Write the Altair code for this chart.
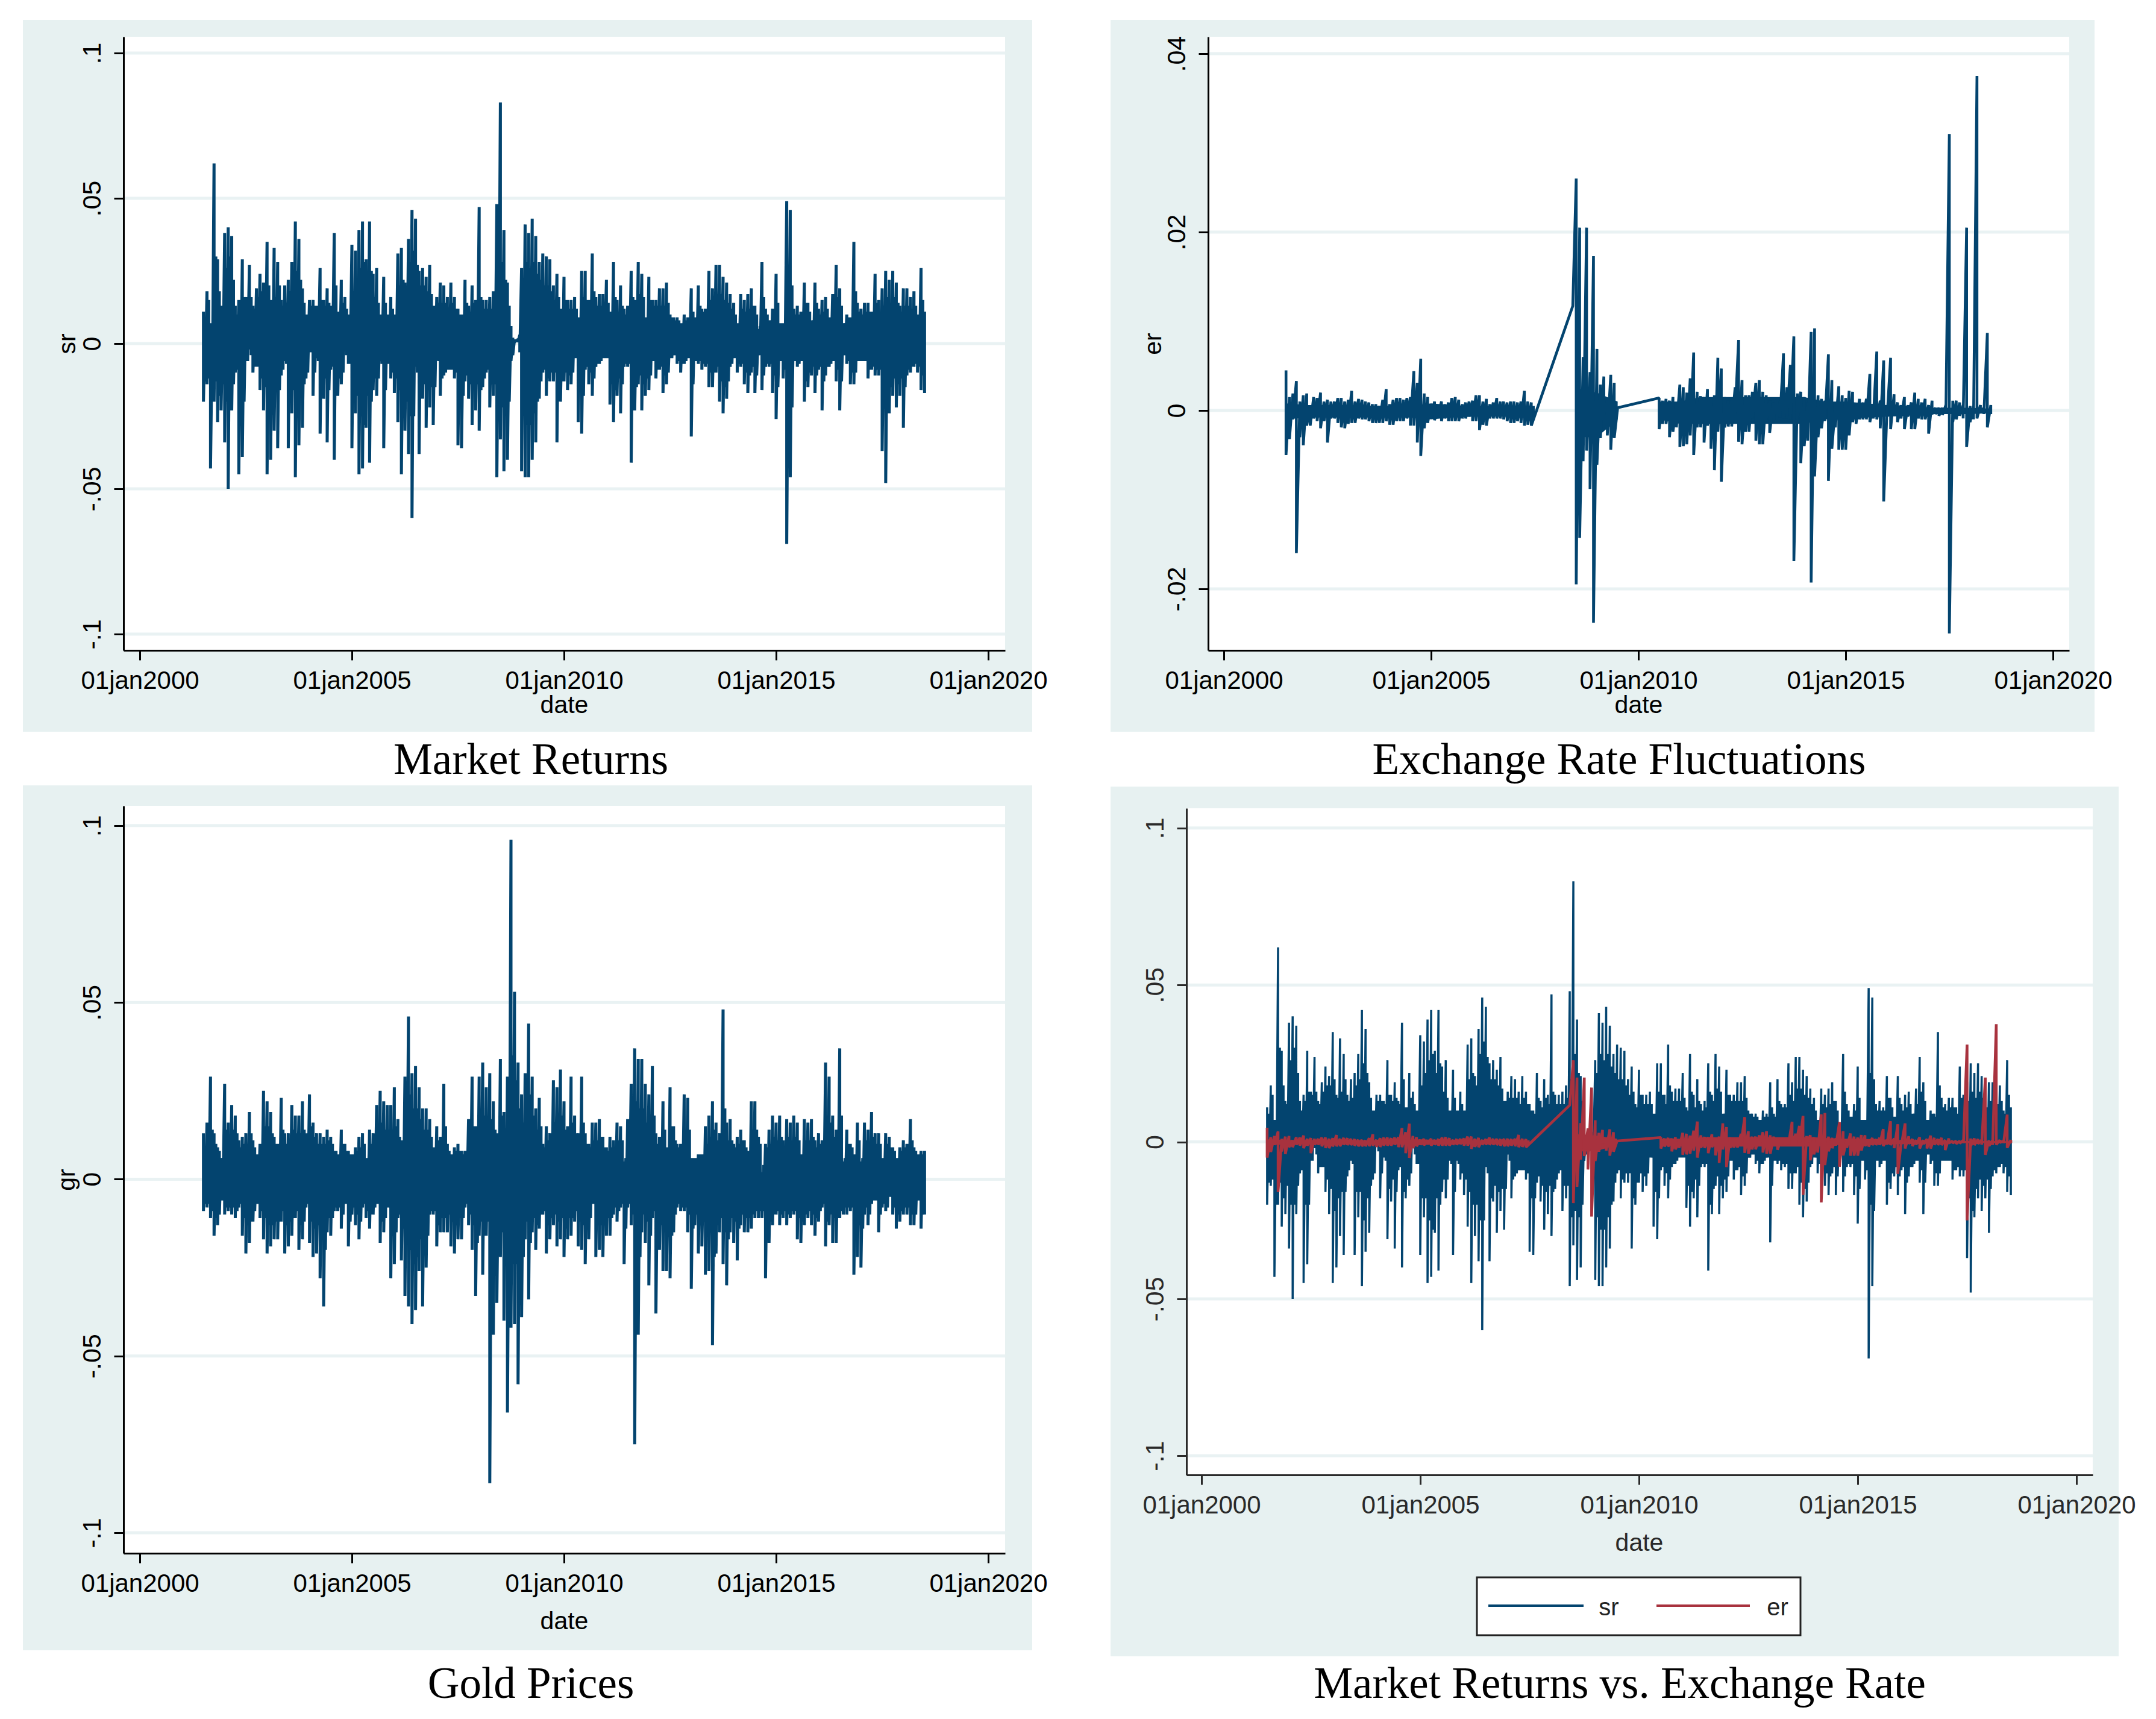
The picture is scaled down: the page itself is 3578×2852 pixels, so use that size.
import altair as alt
import pandas as pd

# Envelope of each daily series, one high and one low per
# month from July 2001 (index 0) to July 2018 (index 204), in thousandths.
SR_HI = [11,18,7,62,29,13,38,40,37,13, 15,29,16,27,13,19,24,21,35,15, 33,28,15,20,22,28,42,36,19,10,
         15,15,13,26,15,19,13,38,11,22, 16,10,34,32,39,42,29,42,24,26, 10,23,10,16,10,31,33,21,36,46,
         43,25,26,23,27,13,16,21,20,
         16,21,16,12,10,22,13,20,15,47,15,15,16,18,48,83,39,21, 6,1.5,1.5,
         26,41,38,43,37,28,31,30,29,20,24,12,23,15,15,16,9,25,25,15,31,16,17,17,22,11,28,15,20,12,
         13,25,15,28,24,9,23,15,15,19,19,21,10,9,9,7,10,9,19,
         9,20,12,12,25,19,27,27,23,21,17,14,7,17,15,17,19,13,5,28,12,8,12,24,7,7,49,46,12,13,
         11,21,14,8,21,12,15,16,9,17,27,19,7,10,9,35,14,12,14,14,11,24,15,19,25,22,25,21,13,19,
         19,16,18,10,26,11]
SR_LO = [-20,-14,-43,-20,-27,-23,-34,-50,-23,-10, -45,-39,-6,-2,-10,-8,-16,-23,-45,-40,
         -30,-36,-11,-6,-36,-24,-46,-35,-29,-12, -1,-18,-5,-31,-19,-34,-9,-40,-18,-14,
         -2,-7,-36,-24,-45,-43,-29,-41,-16,-18, -6,-36,-6,-12,-17,-27,-45,-30,-38,-60,
         -8,-38,-19,-29,-22,-28,-4,-18,-11,
         -9,-9,-12,-35,-36,-13,-19,-28,-23,-30,-15,-10,-22,-18,-46,-33,-44,-40, -6,0.5,0.5,
         -44,-46,-46,-40,-34,-19,-10,-18,-13,-13,-34,-20,-13,-16,-14,-5,-27,-31,-9,-14,
         -18,-8,-7,-5,-5,-21,-27,-18,-24,-8,-8,-41,-23,-14,-23,-18,-16,-6,-12,-9,
         -17,-14,-5,-4,-7,-10,-7,-5,-32,
         -6,-7,-9,-8,-15,-15,-10,-20,-24,-19,-8,-5,-10,-8,-14,-17,-10,-17,-4,-16,
         -8,-8,-17,-26,-6,-12,-69,-46,-6,-8,-6,-20,-15,-11,-17,-9,-23,-11,-8,-6,
         -13,-23,-4,-7,-14,-14,-6,-6,-6,-12,-9,-11,-11,-37,-48,-24,-18,-22,-18,-29,
         -11,-10,-8,-10,-16,-17]

# Lesser swings seen between those monthly extremes, half a month later.
SR_MID_HI = [9,15,7,30,18,12,26,30,22,10, 13,16,15,16,12,16,18,18,20,14, 16,20,13,14,18,20,25,22,14,10,
             13,13,12,15,13,14,12,20,11,14, 12,10,18,22,26,28,22,25,16,14, 10,14,10,12,10,20,22,18,28,32,
             27,20,20,18,17,13,14,14,14,
             12,14,12,10,9,14,11,14,12,16,12,12,12,14,20,28,22,13,2,1.2,3,
             22,28,26,28,24,22,20,20,18,15,16,11,15,12,12,12,9,16,15,12,18,13,13,13,14,10,16,11,13,10,
             11,16,13,17,16,9,15,13,13,13,13,14,9,8,8,7,8,8,11,
             8,13,11,11,15,13,17,17,15,14,12,10,7,12,11,12,13,10,6,16,10,8,10,14,7,7,22,20,10,10,
             10,14,11,8,14,10,11,12,9,12,16,13,7,9,8,18,11,10,11,11,9,14,11,13,16,14,16,14,11,13,
             13,12,13,9,15,9]
SR_MID_LO = [-13,-12,-20,-13,-18,-14,-20,-20,-14,-9, -20,-20,-6,-4,-8,-8,-12,-15,-22,-18,
             -16,-16,-9,-7,-16,-16,-25,-18,-14,-10, -3,-10,-6,-15,-12,-16,-8,-16,-12,-10,
             -4,-7,-18,-18,-25,-28,-18,-20,-12,-12, -7,-16,-7,-10,-12,-16,-20,-20,-25,-25,
             -10,-18,-14,-16,-15,-15,-6,-12,-10,
             -9,-9,-10,-18,-18,-11,-14,-16,-14,-16,-12,-9,-14,-14,-24,-22,-24,-20,-4,.7,-3,
             -24,-28,-28,-24,-20,-13,-9,-12,-10,-10,-18,-13,-10,-11,-10,-5,-16,-18,-8,-10,
             -12,-7,-6,-5,-5,-14,-16,-12,-14,-7,-7,-20,-15,-11,-14,-12,-11,-6,-9,-8,
             -11,-10,-5,-4,-6,-7,-6,-5,-14,
             -6,-6,-7,-7,-10,-10,-8,-13,-15,-13,-7,-5,-7,-7,-10,-11,-8,-11,-4,-11,
             -7,-7,-11,-15,-6,-9,-20,-22,-6,-7, -6,-13,-10,-8,-11,-8,-13,-8,-7,-6,
             -9,-13,-4,-6,-10,-10,-6,-6,-6,-9,-8,-9,-9,-18,-22,-15,-12,-14,-12,-15,
             -9,-8,-7,-8,-11,-12]

GR_HI = [13,16,29,13,9,6,27,16,21,18, 11,12,13,19,11,7,10,25,22,19, 12,10,23,13,13,21,18,18,22,13,
         24,16,13,13,12,14,12,8,7,14, 10,8,7,9,12,13,6,14,13,21, 25,22,21,21,26,17,11,29,46,30,
         32,26,20,20,17,9,15,12,27,
         10,7,9,10,8,8,17,29,15,29, 33,26,30,22,13,34,19,29,96,53, 33,24,30,44,29,20,23,10,15,13,
         28,26,31,22,15,29,18,13,29,13, 10,16,16,17,12,9,12,11,16,15, 5,17,27,37,34,34,27,24,32,13,
         12,22,9,26,15,10,10,24,23,6,
         6,7,7,15,18,22,16,13,48,16, 17,10,12,14,11,8,22,22,12,2, 10,14,18,16,18,11,17,16,18,16,
         7,17,16,17,11,13,11,33,29,18, 14,37,5,14,10,7,16,5,16,14, 19,13,13,6,13,12,9,6,9,11,
         10,17,9,7,8,8]
GR_LO = [-9,-8,-11,-16,-13,-6,-10,-9,-10,-11, -8,-16,-21,-18,-12,-7,-11,-17,-21,-19,
         -17,-17,-12,-21,-19,-16,-11,-20,-17,-8, -18,-22,-21,-28,-36,-15,-16,-9,-9,-14,
         -7,-19,-10,-13,-17,-8,-11,-14,-10,-7, -18,-15,-8,-28,-24,-11,-23,-33,-36,-41,
         -37,-26,-36,-25,-10,-10,-19,-15,-15,
         -15,-19,-21,-17,-17,-8,-13,-20,-33,-16, -27,-16,-86,-44,-35,-22,-40,-66,-42,-41,
         -58,-39,-17,-34,-15,-20,-14,-10,-21,-17, -13,-19,-17,-22,-17,-16,-12,-19,-20,-24,
         -17,-7,-22,-20,-22,-16,-16,-10,-12,-8, -24,-8,-13,-75,-44,-15,-18,-30,-11,-38,
         -20,-26,-26,-28,-15,-8,-9,-9,-15,-31,
         -13,-21,-19,-27,-26,-47,-21,-15,-24,-30, -15,-18,-23,-13,-15,-15,-14,-11,-11,-11,
         -28,-18,-13,-10,-13,-11,-13,-11,-10,-17, -18,-13,-11,-13,-16,-12,-8,-19,-13,-18,
         -18,-11,-10,-10,-9,-27,-22,-25,-10,-13, -7,-6,-15,-8,-9,-5,-10,-14,-12,-10,
         -10,-13,-13,-6,-14,-10]
GR_MID_HI = [9,12,14,10,8,6,14,12,14,13, 9,10,10,13,9,7,8,15,15,13, 10,9,14,10,10,14,13,13,14,10,
             15,12,10,10,10,11,10,8,7,10, 8,7,7,8,9,10,6,10,10,14, 16,14,14,14,15,12,10,17,24,20,
             20,17,14,14,12,9,11,10,15,
             8,7,8,8,7,8,11,15,12,16, 18,16,17,14,11,18,14,16,35,28, 20,16,18,24,18,14,15,9,11,10,
             16,16,18,14,12,16,13,10,16,10, 9,11,11,12,9,8,9,9,11,11, 6,12,16,22,20,20,16,15,18,10,
             9,14,8,15,11,9,9,14,14,6,
             6,7,7,10,12,14,11,10,20,11, 11,9,10,11,9,8,14,14,10,4, 9,10,12,11,12,9,12,11,12,11,
             7,11,11,12,9,10,9,18,16,12, 10,18,6,10,9,7,11,6,11,10, 12,10,10,6,10,9,8,6,8,9,
             8,11,8,7,7,7]
GR_MID_LO = [-7,-7,-9,-11,-10,-6,-8,-8,-8,-9, -7,-11,-13,-12,-9,-7,-9,-11,-13,-13,
             -12,-12,-9,-13,-12,-11,-9,-13,-12,-7, -12,-14,-13,-16,-20,-11,-11,-8,-8,-10,
             -7,-12,-8,-10,-12,-7,-9,-10,-8,-7, -12,-11,-8,-16,-15,-10,-14,-18,-20,-24,
             -22,-17,-20,-16,-9,-9,-13,-11,-11,
             -10,-12,-13,-11,-11,-7,-10,-13,-18,-12, -16,-12,-30,-22,-20,-15,-22,-28,-24,-24,
             -28,-22,-12,-18,-11,-13,-10,-9,-13,-11, -10,-12,-11,-14,-11,-11,-9,-12,-13,-14,
             -11,-7,-13,-13,-13,-11,-11,-8,-9,-7, -14,-7,-10,-28,-22,-10,-12,-16,-9,-18,
             -13,-15,-15,-16,-10,-7,-8,-8,-10,-14,
             -10,-13,-12,-16,-15,-22,-13,-11,-15,-17, -11,-12,-14,-10,-11,-11,-10,-9,-9,-9,
             -15,-12,-10,-9,-10,-9,-10,-9,-9,-11, -12,-10,-9,-10,-11,-9,-7,-12,-10,-11,
             -11,-9,-8,-8,-8,-15,-13,-14,-8,-10, -6,-6,-10,-7,-8,-5,-8,-10,-9,-8,
             -8,-10,-10,-6,-10,-8]

# None marks the months with no exchange-rate observation (the line jumps them).
ER_HI = [4.5,1.5,1.9,3.3,1,1.7,1.9,.5,1.5,1.4, 2,1,1.2,1,1,1.4,1.4,1,1.2,2.2,
         1,1.3,1.2,1,.9,.7,.7,.5,1.2,2.4, .7,1.2,1.4,1.4,1.2,1.4,1.5,4.4,3.1,5.8,
         1.9,1.5,.7,1,.5,1,.7,.9,1.4,1.5, 1.2,.7,.9,1,1.1,1.7,1.7,1,1.3,.7,
         .9,1.4,1,1,.9,1,1,.9,1,2.2,1,.9,
         None,None,None,None,None,None,None,None,None,None,None,
         11.7,26,20.5,6,20.5,4.3,17.3,6.9,2.9,3.8,1.2,4,3.1,.3,
         None,None,None,None,None,None,None,None,None,None,None,
         1.4,1.1,1.3,1.1,1.5,.6,2.9,2.6,2,3.6, 6.5,2.1,1.6,1.5,2.4,1.3,1.7,5.9,4.7,1.5,
         1.1,1.3,2.6,7.9,3.4,1.7,1.7,2.1,3.1,3.4, 2.1,1.7,1.1,.9,1.2,1,6.4,2.6,5.1,8.3,
         1.9,2.1,1.5,.9,8.8,9.2,1.7,1.3,1.1,6.3, 3.4,.6,2.7,1.7,1.4,2.2,2.1,.6,1.3,.9,
         1.3,4.1,.6,6.6,1.1,5.6,.6,5.9,1.8,.9, .6,1.5,.6,.9,2,1.3,.9,1.3,.6,1.1,
         .3,.3,.3,.6,31,
         1.1,1.1,.9,.6,20.5,.5,.5,37.5,.6,.3,8.7,.6]
ER_LO = [-5,-3.2,-1,-16,-3,-3.9,-1.7,-1.7,-.9,-1.2, -2,-1.2,-3.6,-.9,-.9,-1.4,-1.9,-2,-1.5,-1.4,
         -1.4,-.9,-1,-1,-1.2,-1.4,-1.4,-1.4,-1.4,-1.2, -1.6,-1.6,-1.2,-1.2,-1.2,-.9,-1.7,-1.7,-3.6,-5.1,
         -2,-1.4,-.9,-1.1,-.5,-1.2,-.9,-1.2,-1.2,-1.2, -1.2,-.9,-.9,-.7,-1.2,-1.2,-2.2,-1.6,-1.7,-.9,
         -.9,-.9,-.9,-1,-1.2,-1.4,-1.4,-1.2,-1.4,-1.7,-1.6,-1.7,
         None,None,None,None,None,None,None,None,None,None,None,
         11.7,-19.5,-14.3,-5.7,-4.5,-8.8,-23.8,-6.1,-3.1,-.5,-2.8,-4.4,-3.1,.3,
         None,None,None,None,None,None,None,None,None,None,None,
         -2.1,-1.5,-1.5,-3,-2.4,-1.9,-4.1,-4,-3.8,-2.8, -5,-1.9,-1.9,-3.6,-1.7,-4.3,-6.7,-2.4,-8,-1.9,
         -1.8,-1.8,-.4,-3.5,-3.8,-2.4,-2.4,-.9,-3.4,-3.8, -3.8,-1,-2.5,-.8,-1,-.8,-.9,-.9,-1,-16.9,
         -.6,-5.9,-4,-3.4,-19.3,-7.4,-3,-2,-1.2,-7.9, -4.3,-1.9,-4.4,-4.4,-4.4,-2.8,-1.3,-1.5,-1,-1,
         -1,-1.3,-.9,-1,-2,-10.2,-.7,-2.1,-.6,-1.3, -.9,-2.1,-.7,-2.1,-2.1,-.9,-1,-1,-2.6,-.4,
         -.4,-.6,-.5,-.4,-25,
         -1.3,-1,-.6,-.9,-4.1,-1.3,-1,-.9,-.2,-.4,-1.9,-.4]

# The solid band the small daily exchange-rate swings merge into, in thousandths.
ER_BAND_YEARS = [[2001.5 + 0.5 * n for n in range(13)], [2008.5, 2009, 2009.5], [2010.5 + 0.5 * n for n in range(17)]]
ER_BAND_HI = [[.8,.6,.6,.6,.5,.5,.5,.8,.6,.5,.5,.5,.5], [2.5,2,1], [1,1,1.5,1.5,1.5,1.5,1.5,1.5,1,1,.8,.6,.5,.3,.3,.3,.2]]
ER_BAND_LO = [[-1,-.8,-.8,-.8,-.8,-.8,-.8,-1,-.8,-.7,-.7,-.7,-1], [-3,-3,-1], [-1,-1.5,-1.5,-1.5,-1.5,-1.5,-1.5,-1.5,-1,-1,-.8,-.7,-.6,-.4,-.4,-.4,-.3]]

X_TICKS = [2000, 2005, 2010, 2015, 2020]
SR_TICKS = [-0.1, -0.05, 0, 0.05, 0.1]
ER_TICKS = [-0.02, 0, 0.02, 0.04]
TITLES = ["Market Returns", "Exchange Rate Fluctuations", "Gold Prices", "Market Returns vs. Exchange Rate"]
LEGEND_LABELS = ["sr", "er"]

NAVY = "#03446f"
RED = "#a8323e"
PANEL = "#e7f1f1"
GRID = "#e9f2f3"
SANS = "Liberation Sans"
SERIF = "Liberation Serif"
W, H = 3562, 2836
ONE = pd.DataFrame({"a": [0]})


def series(hi, lo, mid_hi=None, mid_lo=None):
    rows = []
    i = 0
    for k, (a, b) in enumerate(zip(hi, lo)):
        year = 2001.5 + k / 12
        if a is None:
            continue
        rows.append({"year": year, "v": a / 1000, "i": i})
        rows.append({"year": year, "v": b / 1000, "i": i + 1})
        i += 2
        if mid_hi is not None and k < len(hi) - 1:
            rows.append({"year": year + 0.5 / 12, "v": mid_hi[k] / 1000, "i": i})
            rows.append({"year": year + 0.5 / 12, "v": mid_lo[k] / 1000, "i": i + 1})
            i += 2
    return pd.DataFrame(rows)


def band(years, hi, lo, seg=0):
    return pd.DataFrame({"year": years, "hi": [h / 1000 for h in hi], "lo": [l / 1000 for l in lo], "seg": seg})


def label_expr():
    return "replace(replace(format(datum.value,'.2~f'),'0.','.'),'\u2212','-')"


def rect(x0, x1, y0, y1, fill):
    return alt.Chart(ONE).mark_rect(fill=fill).encode(
        x=alt.value(x0 - 8), x2=alt.value(x1 - 8), y=alt.value(y0 - 8), y2=alt.value(y1 - 8))


def text(s, x, y, size, font, color="black", angle=0):
    return alt.Chart(ONE).mark_text(text=s, fontSize=size, font=font, color=color, align="center",
                                    baseline="middle", angle=angle).encode(
        x=alt.value(x - 8), y=alt.value(y - 8))


def panel(spec):
    px0, px1, py0, py1 = spec["plot"]
    xs = alt.Scale(domain=spec["xdom"], range=[px0 - 8, px1 - 8], nice=False, zero=False)
    ys = alt.Scale(domain=spec["ydom"], range=[py1 - 8, py0 - 8], nice=False, zero=False)
    col = spec.get("axis", "black")
    xaxis = alt.Axis(orient="bottom", values=X_TICKS, labelExpr="'01jan' + datum.value", title="date", grid=False,
                     offset=(py1 - 8) - H, labelFontSize=42, labelFont=SANS, labelColor=col, labelLimit=500,
                     labelPadding=14, tickSize=16, tickWidth=3, tickColor=col, domainColor=col,
                     domainWidth=3, titleFont=SANS, titleFontSize=41, titleFontWeight="normal",
                     titleColor=col, titleX=spec["date_x"] - 8, titleY=spec["date_y"] - py1,
                     titleBaseline="middle", titleAlign="center", labelOverlap=False, labelFlush=False, zindex=1)
    yargs = dict(orient="left", values=spec["yticks"], labelExpr=label_expr(), grid=False, offset=8 - px0,
                 labelAngle=270, labelAlign="center", labelBaseline="bottom", labelFontSize=43,
                 labelFont=SANS, labelColor=col, labelPadding=14, tickSize=16, tickWidth=3, labelLimit=500,
                 tickColor=col, domainColor=col, domainWidth=3, labelOverlap=False, labelFlush=False, zindex=1)
    if spec["ytitle"]:
        yaxis = alt.Axis(title=spec["ytitle"], titleFont=SANS, titleFontSize=41, titleFontWeight="normal",
                         titleColor=col, titleAngle=270, titleX=spec["title_x"] - px0,
                         titleY=(py0 + py1) / 2 - 8, titleBaseline="middle", titleAlign="center", **yargs)
    else:
        yaxis = alt.Axis(title=None, **yargs)

    grid_df = pd.DataFrame({"t": spec["yticks"], "x0": spec["xdom"][0], "x1": spec["xdom"][1]})
    grid = alt.Chart(grid_df).mark_rule(color=GRID, strokeWidth=5).encode(
        x=alt.X("x0:Q", scale=xs, axis=None), x2="x1:Q", y=alt.Y("t:Q", scale=ys, axis=None))

    layers = [rect(*spec["bg"], PANEL), rect(px0, px1, py0, py1, "white"), grid]
    for n, (df, bnd, color, sw) in enumerate(spec["lines"]):
        if bnd is not None:
            layers.append(alt.Chart(bnd).mark_area(color=color, opacity=1).encode(
                x=alt.X("year:Q", scale=xs, axis=None),
                y=alt.Y("lo:Q", scale=ys, axis=None), y2="hi:Q", detail="seg:N"))
        layers.append(alt.Chart(df).mark_line(color=color, strokeWidth=sw, strokeJoin="bevel").encode(
            x=alt.X("year:Q", scale=xs, axis=xaxis if n == 0 else None),
            y=alt.Y("v:Q", scale=ys, axis=yaxis if n == 0 else None),
            order="i:Q"))
    return layers


sr = series(SR_HI, SR_LO, SR_MID_HI, SR_MID_LO)
gr = series(GR_HI, GR_LO, GR_MID_HI, GR_MID_LO)
er = series(ER_HI, ER_LO)
er_band = pd.concat([band(y, h, l, s) for s, (y, h, l) in enumerate(zip(ER_BAND_YEARS, ER_BAND_HI, ER_BAND_LO))])

P1 = dict(bg=(38, 1713, 33, 1214), plot=(205, 1668, 61, 1079), xdom=[1999.616, 2020.398], ydom=[-0.1056, 0.1056],
          yticks=SR_TICKS, ytitle="sr", title_x=112, date_x=936, date_y=1170, lines=[(sr, None, NAVY, 5)])
P2 = dict(bg=(1843, 3476, 33, 1214), plot=(2005, 3434, 61, 1079), xdom=[1999.622, 2020.392], ydom=[-0.0269, 0.0419],
          yticks=ER_TICKS, ytitle="er", title_x=1914, date_x=2719, date_y=1170, lines=[(er, er_band, NAVY, 4.6)])
P3 = dict(bg=(38, 1713, 1303, 2738), plot=(205, 1668, 1337, 2577), xdom=[1999.616, 2020.398], ydom=[-0.1058, 0.1056],
          yticks=SR_TICKS, ytitle="gr", title_x=111, date_x=936, date_y=2690, lines=[(gr, None, NAVY, 5)])
P4 = dict(bg=(1843, 3516, 1305, 2748), plot=(1969, 3473, 1341, 2447), xdom=[1999.656, 2020.372], ydom=[-0.1061, 0.1063],
          yticks=SR_TICKS, ytitle="", title_x=1880, date_x=2720, date_y=2560, axis="#2a2a2a",
          lines=[(sr, None, NAVY, 3.5), (er, er_band, RED, 4.5)])

layers = []
for spec in (P1, P2, P3, P4):
    layers += panel(spec)

layers += [
    text(TITLES[0], 881, 1262, 73, SERIF),
    text(TITLES[1], 2687, 1262, 73, SERIF),
    text(TITLES[2], 881, 2795, 73, SERIF),
    text(TITLES[3], 2688, 2795, 73, SERIF),
]

# legend box of the fourth panel
box = alt.Chart(ONE).mark_rect(fill="white", stroke="#222222", strokeWidth=3).encode(
    x=alt.value(2451 - 8), x2=alt.value(2988 - 8), y=alt.value(2617 - 8), y2=alt.value(2713 - 8))
layers += [
    box,
    alt.Chart(ONE).mark_rule(color=NAVY, strokeWidth=4).encode(x=alt.value(2470 - 8), x2=alt.value(2628 - 8), y=alt.value(2664 - 8)),
    alt.Chart(ONE).mark_rule(color=RED, strokeWidth=4).encode(x=alt.value(2749 - 8), x2=alt.value(2904 - 8), y=alt.value(2664 - 8)),
    text(LEGEND_LABELS[0], 2670, 2668, 40, SANS, "#222222"),
    text(LEGEND_LABELS[1], 2950, 2668, 40, SANS, "#222222"),
]

chart = alt.layer(*layers).resolve_scale(x="independent", y="independent").properties(
    width=W, height=H, padding=0, autosize=alt.AutoSizeParams(type="none"),
    background="white",
).configure_view(stroke=None)

chart.save("out.html", embed_options={"renderer": "svg", "actions": False})
